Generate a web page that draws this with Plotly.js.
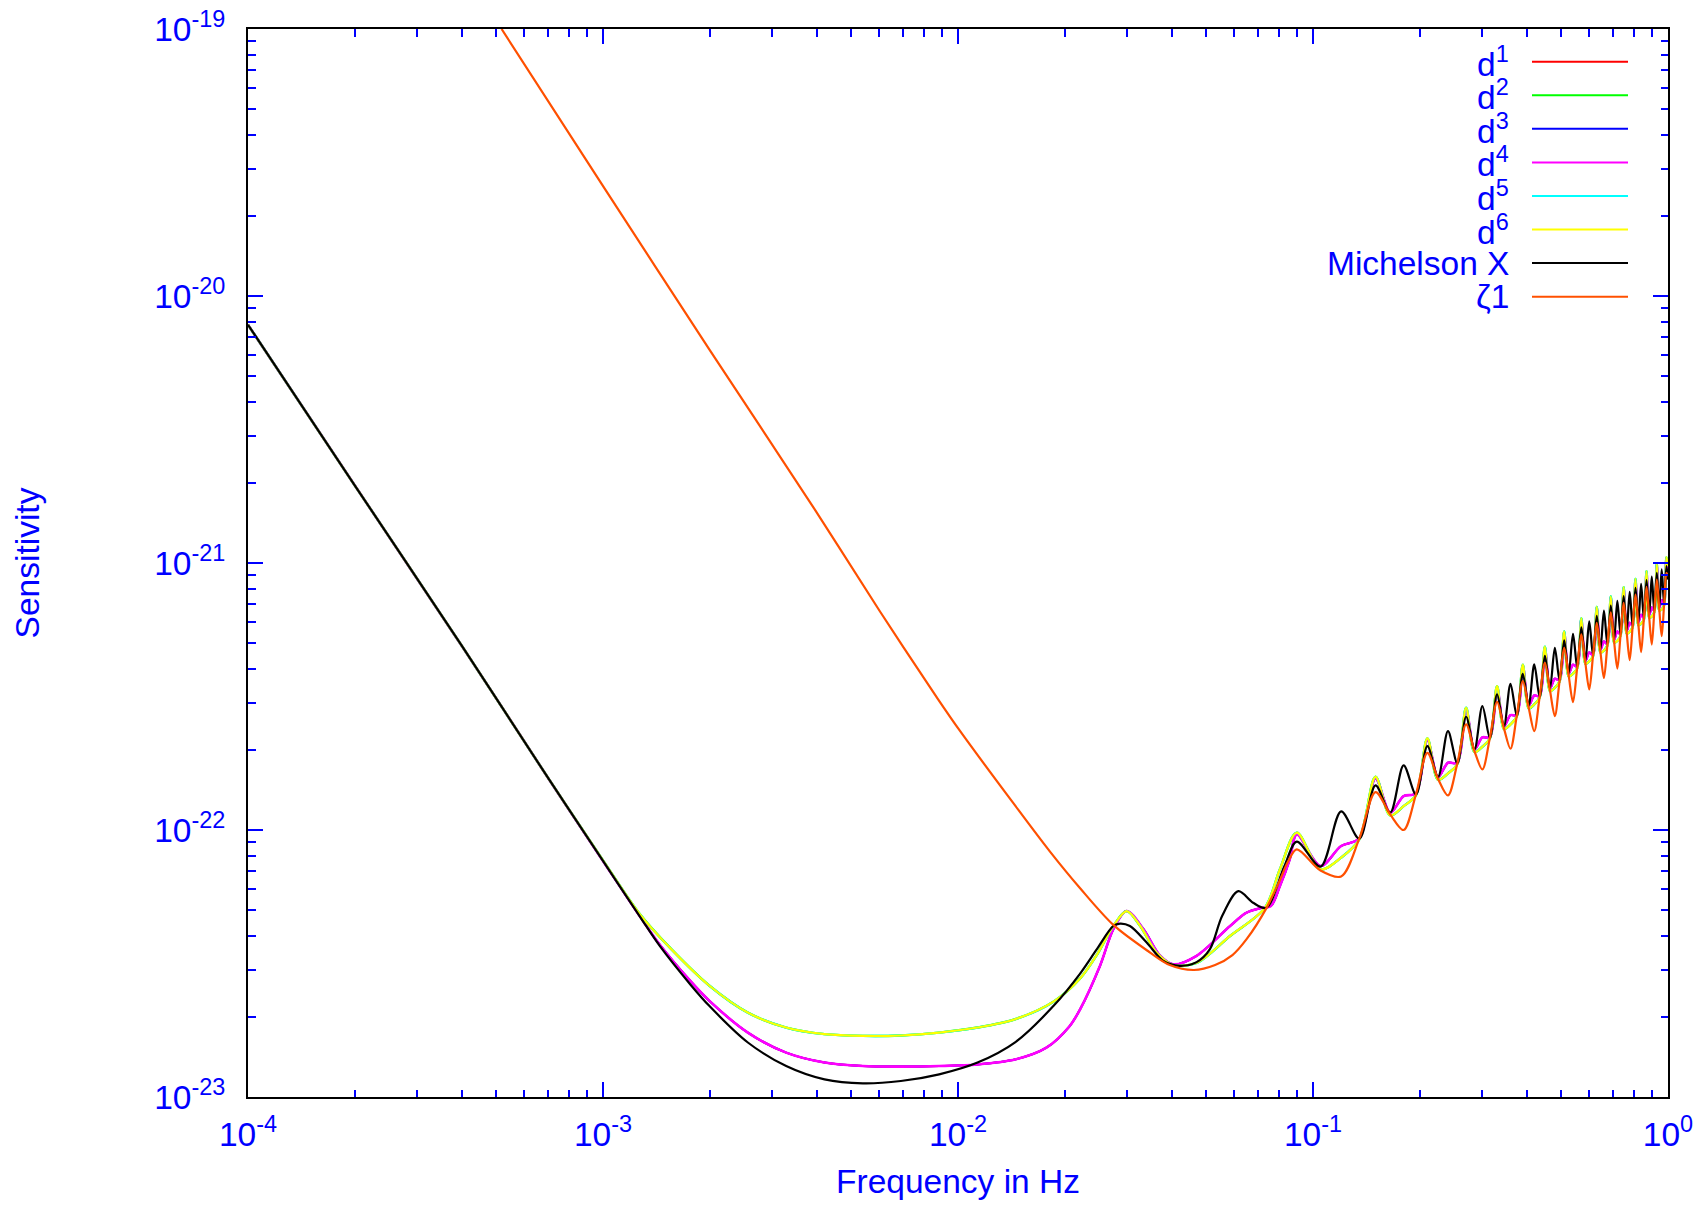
<!DOCTYPE html>
<html>
<head>
<meta charset="utf-8">
<script src="https://cdn.plot.ly/plotly-3.0.1.min.js"></script>
<style>
html,body{margin:0;padding:0;background:#ffffff;}
#chart{width:1704px;height:1205px;}
</style>
</head>
<body>
<div id="chart"></div>
<script>
// ---------------- DATA ----------------
// Common high-frequency grid (Hz) where peaks / troughs were read
const freqHF = [0.09,0.105,0.12,0.135,0.15,0.165,0.18,0.195,0.21,0.225,0.24,0.255,0.27,0.285,0.30,0.315,
  0.33,0.345,0.36,0.375,0.39,0.405,0.42,0.435,0.45,0.465,0.48,0.495,0.51,0.525,0.54,0.555,0.57,0.585,
  0.60,0.615,0.63,0.645,0.66,0.675,0.69,0.705,0.72,0.735,0.75,0.765,0.78,0.795,0.81,0.825,0.84,0.855,
  0.87,0.885,0.90,0.915,0.93,0.945,0.96,0.975,0.99,1.0];

// Michelson X (black)
const freqX_low = [1e-4,2e-4,4e-4,7.04e-4,1.0e-3,1.276e-3,1.445e-3,1.762e-3,1.995e-3,2.559e-3,3.281e-3,4.207e-3,
  5.395e-3,6.902e-3,8.851e-3,1.135e-2,1.455e-2,1.862e-2,2.208e-2,2.459e-2,2.739e-2,2.86e-2,3.05e-2,3.40e-2,
  3.79e-2,4.22e-2,4.70e-2,5.12e-2,5.55e-2,6.16e-2,6.78e-2,7.38e-2,8.31e-2];
const sensX_low = [7.8e-21,1.95e-21,4.9e-22,1.55e-22,7.66e-23,4.70e-23,3.68e-23,2.64e-23,2.19e-23,1.60e-23,1.306e-23,1.164e-23,
  1.125e-23,1.148e-23,1.216e-23,1.346e-23,1.61e-23,2.20e-23,2.90e-23,3.57e-23,4.37e-23,4.46e-23,4.37e-23,3.79e-23,
  3.23e-23,3.10e-23,3.20e-23,3.57e-23,4.77e-23,5.90e-23,5.34e-23,5.11e-23,7.33e-23];
const sensX_HF = [9.04e-23,7.29e-23,1.174e-22,9.28e-23,1.469e-22,1.161e-22,1.746e-22,1.359e-22,2.062e-22,1.578e-22,
  2.346e-22,1.776e-22,2.656e-22,2.003e-22,2.911e-22,2.215e-22,3.219e-22,2.443e-22,3.528e-22,2.678e-22,3.847e-22,
  2.920e-22,4.169e-22,3.155e-22,4.493e-22,3.390e-22,4.813e-22,3.621e-22,5.128e-22,3.847e-22,5.43e-22,4.062e-22,
  5.735e-22,4.29e-22,6.04e-22,4.506e-22,6.34e-22,4.73e-22,6.64e-22,4.94e-22,6.93e-22,5.16e-22,7.22e-22,5.37e-22,
  7.51e-22,5.57e-22,7.80e-22,5.79e-22,8.07e-22,5.99e-22,8.36e-22,6.18e-22,8.62e-22,6.38e-22,8.90e-22,6.58e-22,
  9.19e-22,6.80e-22,9.46e-22,6.99e-22,9.73e-22,8.67e-22];

// d1, d3, d4 (coincide; magenta d4 drawn on top)
const freqDA_low = [1e-4,2e-4,4e-4,7.04e-4,1.0e-3,1.276e-3,1.445e-3,1.762e-3,1.995e-3,2.559e-3,3.281e-3,4.207e-3,
  5.395e-3,6.902e-3,8.851e-3,1.135e-2,1.455e-2,1.774e-2,2.061e-2,2.208e-2,2.512e-2,2.739e-2,2.986e-2,3.33e-2,
  3.71e-2,4.04e-2,4.70e-2,5.84e-2,6.50e-2,7.17e-2,7.61e-2,8.07e-2,8.6e-2];
const sensDA_low = [7.8e-21,1.95e-21,4.9e-22,1.55e-22,7.66e-23,4.71e-23,3.72e-23,2.72e-23,2.29e-23,1.742e-23,1.466e-23,1.346e-23,
  1.306e-23,1.30e-23,1.306e-23,1.324e-23,1.384e-23,1.53e-23,1.84e-23,2.13e-23,3.10e-23,4.25e-23,4.97e-23,4.25e-23,
  3.38e-23,3.14e-23,3.38e-23,4.37e-23,4.90e-23,5.11e-23,5.19e-23,6.17e-23,7.76e-23];
const sensDA_HF = [9.63e-23,7.33e-23,8.71e-23,9.30e-23, 1.560e-22,1.161e-22,1.340e-22,1.371e-22,
  2.171e-22,1.578e-22,1.786e-22,1.786e-22, 2.828e-22,2.003e-22,2.222e-22,2.228e-22,
  3.41e-22,2.443e-22,2.693e-22,2.693e-22, 4.10e-22,2.920e-22,3.19e-22,3.17e-22,
  4.785e-22,3.390e-22,3.685e-22,3.643e-22, 5.46e-22,3.847e-22,4.157e-22,4.09e-22,
  6.11e-22,4.29e-22,4.62e-22,4.53e-22, 6.76e-22,4.73e-22,5.08e-22,4.97e-22,
  7.39e-22,5.16e-22,5.54e-22,5.40e-22, 8.01e-22,5.57e-22,5.97e-22,5.82e-22,
  8.60e-22,5.99e-22,6.40e-22,6.22e-22, 9.19e-22,6.38e-22,6.81e-22,6.62e-22,
  9.79e-22,6.80e-22,7.26e-22,7.03e-22, 1.037e-21,9.46e-22];

// d2, d5, d6 (coincide; yellow d6 drawn on top)
const freqDB_low = [1e-4,2e-4,4e-4,7.04e-4,1.0e-3,1.276e-3,1.56e-3,1.995e-3,2.559e-3,3.281e-3,4.207e-3,5.395e-3,
  6.902e-3,8.851e-3,1.135e-2,1.455e-2,1.862e-2,2.208e-2,2.459e-2,2.739e-2,2.986e-2,3.26e-2,3.63e-2,4.04e-2,
  4.70e-2,5.84e-2,7.32e-2,8.07e-2];
const sensDB_low = [7.8e-21,1.95e-21,4.9e-22,1.55e-22,7.7e-23,4.8e-23,3.57e-23,2.61e-23,2.07e-23,1.82e-23,1.72e-23,1.694e-23,
  1.70e-23,1.742e-23,1.82e-23,1.96e-23,2.28e-23,2.78e-23,3.40e-23,4.37e-23,4.97e-23,4.37e-23,3.47e-23,3.12e-23,
  3.18e-23,4.01e-23,5.11e-23,7.13e-23];
const sensDB_HF = [9.77e-23,7.12e-23,7.88e-23,9.22e-23, 1.582e-22,1.134e-22,1.229e-22,1.351e-22,
  2.203e-22,1.542e-22,1.629e-22,1.766e-22, 2.870e-22,1.958e-22,2.050e-22,2.203e-22,
  3.458e-22,2.387e-22,2.485e-22,2.663e-22, 4.157e-22,2.853e-22,2.953e-22,3.137e-22,
  4.856e-22,3.313e-22,3.41e-22,3.60e-22, 5.54e-22,3.76e-22,3.847e-22,4.04e-22,
  6.20e-22,4.19e-22,4.28e-22,4.48e-22, 6.85e-22,4.62e-22,4.70e-22,4.91e-22,
  7.49e-22,5.04e-22,5.11e-22,5.34e-22, 8.12e-22,5.45e-22,5.52e-22,5.75e-22,
  8.72e-22,5.85e-22,5.92e-22,6.14e-22, 9.32e-22,6.23e-22,6.31e-22,6.54e-22,
  9.93e-22,6.64e-22,6.70e-22,6.95e-22, 1.052e-21,9.73e-22];

// zeta1 (orange)
const freqZ_low = [5.18e-4,9.91e-4,2.001e-3,3.91e-3,6.03e-3,8.80e-3,1.013e-2,1.432e-2,1.816e-2,2.208e-2,2.739e-2,
  3.45e-2,3.95e-2,4.62e-2,5.30e-2,5.93e-2,6.50e-2,7.40e-2,8.07e-2,8.52e-2];
const sensZ_low = [1.0e-19,2.63e-20,6.26e-21,1.62e-21,6.58e-22,3.08e-22,2.35e-22,1.26e-22,8.3e-23,6.05e-23,4.41e-23,
  3.50e-23,3.12e-23,2.99e-23,3.12e-23,3.40e-23,3.90e-23,5.11e-23,6.5e-23,7.65e-23];
const sensZ_HF = [8.46e-23,7.05e-23,6.70e-23,9.28e-23, 1.387e-22,1.144e-22,1.0e-22,1.359e-22,
  1.946e-22,1.556e-22,1.348e-22,1.776e-22, 2.485e-22,1.975e-22,1.686e-22,2.215e-22,
  3.02e-22,2.408e-22,2.015e-22,2.678e-22, 3.61e-22,2.877e-22,2.346e-22,3.155e-22,
  4.228e-22,3.341e-22,2.671e-22,3.621e-22, 4.813e-22,3.792e-22,3.013e-22,4.062e-22,
  5.40e-22,4.228e-22,3.36e-22,4.506e-22, 5.97e-22,4.66e-22,3.71e-22,4.94e-22,
  6.54e-22,5.08e-22,4.02e-22,5.37e-22, 7.09e-22,5.49e-22,4.33e-22,5.79e-22,
  7.62e-22,5.90e-22,4.64e-22,6.18e-22, 8.14e-22,6.29e-22,4.95e-22,6.58e-22,
  8.67e-22,6.70e-22,5.32e-22,6.99e-22, 9.19e-22,8.93e-22];

// Series names / colours (legend order)
const seriesNames  = ['d<sup>1</sup>','d<sup>2</sup>','d<sup>3</sup>','d<sup>4</sup>','d<sup>5</sup>','d<sup>6</sup>','Michelson X','\u03b61'];
const seriesColors = ['#ff0000','#00ff00','#0000ff','#ff00ff','#00ffff','#ffff00','#000000','#ff5000'];

// Axis ticks
const xTickVals   = [1e-4,1e-3,1e-2,1e-1,1];
const xTickLabels = ['10<sup>-4</sup>','10<sup>-3</sup>','10<sup>-2</sup>','10<sup>-1</sup>','10<sup>0</sup>'];
const yTickVals   = [1e-23,1e-22,1e-21,1e-20,1e-19];
const yTickLabels = ['10<sup>-23</sup>','10<sup>-22</sup>','10<sup>-21</sup>','10<sup>-20</sup>','10<sup>-19</sup>'];
const minorMultipliers = [2,3,4,5,6,7,8,9];

// ---------------- BUILD ----------------
const FONT = 'Liberation Sans, Arial, Helvetica, sans-serif';
const BLUE = '#0000ff';
const FS = 33.5;

const freqX  = freqX_low.concat(freqHF),  sensX  = sensX_low.concat(sensX_HF);
const freqDA = freqDA_low.concat(freqHF), sensDA = sensDA_low.concat(sensDA_HF);
const freqDB = freqDB_low.concat(freqHF), sensDB = sensDB_low.concat(sensDB_HF);
const freqZ  = freqZ_low.concat(freqHF),  sensZ  = sensZ_low.concat(sensZ_HF);

const seriesData = [
  [freqDA, sensDA, 2.0],   // d1
  [freqDB, sensDB, 2.45],  // d2
  [freqDA, sensDA, 2.0],   // d3
  [freqDA, sensDA, 2.6],   // d4
  [freqDB, sensDB, 2.3],   // d5
  [freqDB, sensDB, 2.15],  // d6
  [freqX,  sensX,  2.2],   // Michelson X
  [freqZ,  sensZ,  2.2]    // zeta1
];

const traces = seriesData.map((s, i) => ({
  type: 'scatter', mode: 'lines',
  x: s[0], y: s[1], name: seriesNames[i],
  line: {color: seriesColors[i], width: s[2], shape: 'spline', smoothing: 0.9},
  showlegend: false, hoverinfo: 'skip'
}));

function minorVals(lo, hi) {
  const out = [];
  for (let e = lo; e < hi; e++) minorMultipliers.forEach(m => out.push(m * Math.pow(10, e)));
  return out;
}

// plot-area geometry in px
const W = 1704, H = 1205;
const PL = 248, PR = 1668, PT = 29, PB = 1097;
const px2x = p => (p - PL) / (PR - PL);
const py2y = p => 1 - (p - PT) / (PB - PT);

// legend (gnuplot style: text right-aligned, sample to the right)
const legTop = 61.7, legStep = 33.57, legTextRight = 1511, legLine0 = 1532, legLine1 = 1628;
const annotations = [], shapes = [];
seriesNames.forEach((nm, i) => {
  const y = legTop + i * legStep;
  annotations.push({
    xref: 'paper', yref: 'paper', x: px2x(legTextRight), y: py2y(y),
    xanchor: 'right', yanchor: 'middle', showarrow: false, text: nm,
    font: {family: FONT, size: FS, color: BLUE}
  });
  shapes.push({
    type: 'line', xref: 'paper', yref: 'paper',
    x0: px2x(legLine0), x1: px2x(legLine1), y0: py2y(y), y1: py2y(y),
    line: {color: seriesColors[i], width: 2}
  });
});

const axisCommon = {
  type: 'log', tickmode: 'array', ticks: 'inside', ticklen: 15, tickwidth: 2, tickcolor: BLUE,
  showline: true, linecolor: '#000000', linewidth: 2, mirror: 'ticks',
  showgrid: false, zeroline: false, automargin: false, fixedrange: true,
  tickfont: {family: FONT, size: FS, color: BLUE}
};

const layout = {
  width: W, height: H,
  margin: {l: PL, r: W - PR, t: PT, b: H - PB, pad: 0},
  paper_bgcolor: '#ffffff', plot_bgcolor: '#ffffff',
  showlegend: false, hovermode: false,
  font: {family: FONT, size: FS, color: BLUE},
  xaxis: Object.assign({}, axisCommon, {
    range: [-4, 0], tickvals: xTickVals, ticktext: xTickLabels, ticklabelstandoff: 7,
    minor: {tickmode: 'array', tickvals: minorVals(-4, 0), ticks: 'inside', ticklen: 7.5, tickwidth: 2, tickcolor: BLUE, showgrid: false},
    title: {text: 'Frequency in Hz', font: {family: FONT, size: FS, color: BLUE}, standoff: 17}
  }),
  yaxis: Object.assign({}, axisCommon, {
    range: [-23, -19], tickvals: yTickVals, ticktext: yTickLabels, ticklabelstandoff: 14,
    minor: {tickmode: 'array', tickvals: minorVals(-23, -19), ticks: 'inside', ticklen: 7.5, tickwidth: 2, tickcolor: BLUE, showgrid: false},
    title: {text: 'Sensitivity', font: {family: FONT, size: FS, color: BLUE}, standoff: 104}
  }),
  annotations: annotations,
  shapes: shapes
};

Plotly.newPlot('chart', traces, layout, {staticPlot: true, displayModeBar: false});
</script>
</body>
</html>
